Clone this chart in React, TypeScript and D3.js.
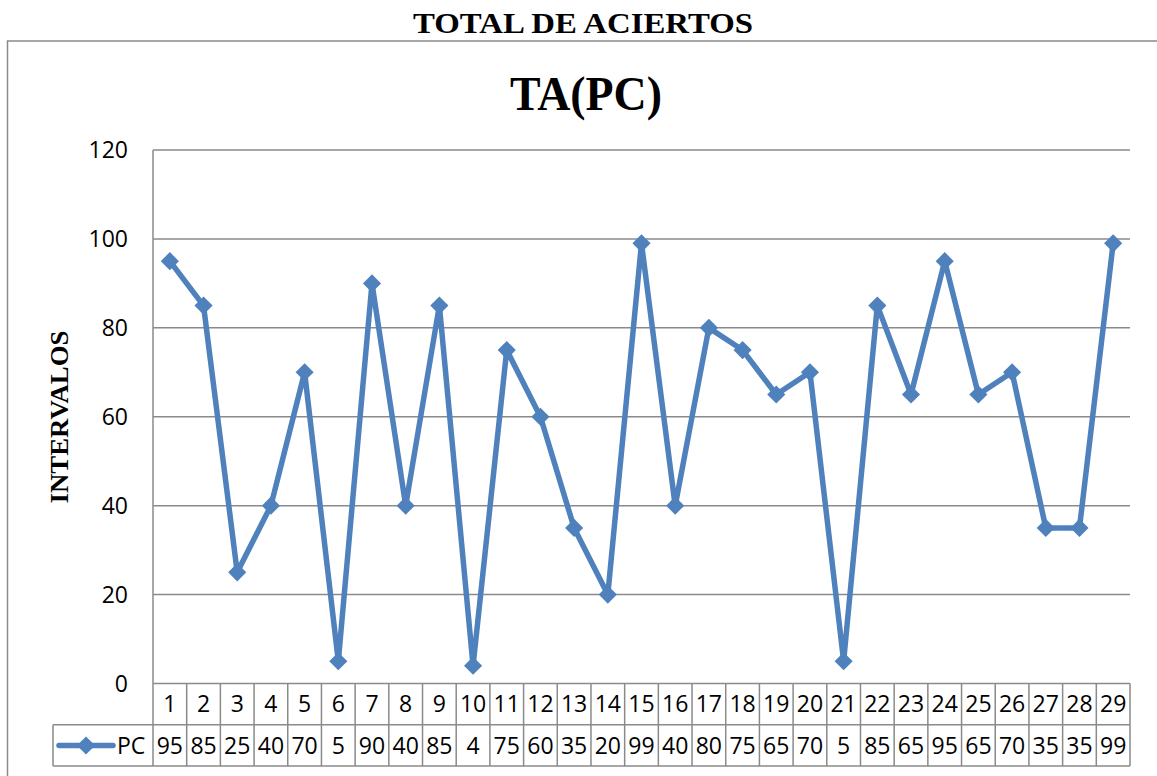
import React from 'react';
import * as d3 from 'd3';

const categories = ['1', '2', '3', '4', '5', '6', '7', '8', '9', '10', '11', '12', '13', '14', '15', '16', '17', '18', '19', '20', '21', '22', '23', '24', '25', '26', '27', '28', '29'];
const pcValues = [95, 85, 25, 40, 70, 5, 90, 40, 85, 4, 75, 60, 35, 20, 99, 40, 80, 75, 65, 70, 5, 85, 65, 95, 65, 70, 35, 35, 99];
const yTicks = [0, 20, 40, 60, 80, 100, 120];
const seriesName = 'PC';
const pageTitle = 'TOTAL DE ACIERTOS';
const chartTitle = 'TA(PC)';
const yTitle = 'INTERVALOS';

const W = 1157;
const H = 776;
const plot = { left: 153, right: 1130, top: 150, bottom: 683.5 };
const rowH = 41.3;
const legendLeft = 53;
const blue = '#4F81BD';
const grid = '#8A8A8A';
const numFont = '"Open Sans", "Liberation Sans", sans-serif';
const serif = '"Liberation Serif", "Times New Roman", serif';

const App = () => {
  React.useEffect(() => {
    document.body.style.margin = '0';
  }, []);

  const x = d3.scaleBand<string>().domain(categories).range([plot.left, plot.right]).padding(0);
  const y = d3.scaleLinear().domain([0, 120]).range([plot.bottom, plot.top]);
  const cx = (i: number) => x(categories[i])! + x.bandwidth() / 2;

  const line = d3.line<number>()
    .x((_, i) => cx(i))
    .y(d => y(d));

  const diamond = d3.symbol().type(d3.symbolDiamond2).size(210)();

  const row1Top = plot.bottom;
  const row2Top = plot.bottom + rowH;
  const row2Bottom = plot.bottom + 2 * rowH;
  const row2Mid = (row2Top + row2Bottom) / 2;

  return (
    <svg width={W} height={H} style={{ display: 'block', background: '#fff' }}>
      <text x={413} y={33} textLength={340} lengthAdjust="spacingAndGlyphs" fontFamily={serif} fontWeight="bold" fontSize={30}>{pageTitle}</text>
      <rect x={7.5} y={41} width={W + 10} height={H} fill="none" stroke={grid} strokeWidth={1.5} />
      <text x={510} y={110} textLength={152} lengthAdjust="spacingAndGlyphs" fontFamily={serif} fontWeight="bold" fontSize={48}>{chartTitle}</text>

      {/* gridlines */}
      {yTicks.map(t => (
        <line key={t} x1={plot.left} x2={plot.right} y1={y(t)} y2={y(t)} stroke={grid} strokeWidth={1.5} />
      ))}
      {yTicks.map(t => (
        <text key={'l' + t} x={128} y={y(t)} dy="0.35em" textAnchor="end" fontFamily={numFont} fontSize={23}>{t}</text>
      ))}
      <text transform={`translate(68,417) rotate(-90)`} textAnchor="middle" textLength={173} lengthAdjust="spacingAndGlyphs" fontFamily={serif} fontWeight="bold" fontSize={26}>{yTitle}</text>

      {/* data table */}
      <line x1={plot.left} x2={plot.left} y1={plot.top} y2={row2Bottom} stroke={grid} strokeWidth={1.5} />
      <line x1={legendLeft} x2={plot.right} y1={row2Top} y2={row2Top} stroke={grid} strokeWidth={1.5} />
      <line x1={legendLeft} x2={plot.right} y1={row2Bottom} y2={row2Bottom} stroke={grid} strokeWidth={1.5} />
      <line x1={legendLeft} x2={legendLeft} y1={row2Top} y2={row2Bottom} stroke={grid} strokeWidth={1.5} />
      {categories.map(c => (
        <line key={'v' + c} x1={x(c)! + x.bandwidth()} x2={x(c)! + x.bandwidth()} y1={row1Top} y2={row2Bottom} stroke={grid} strokeWidth={1.5} />
      ))}
      {categories.map((c, i) => (
        <text key={'c' + c} x={cx(i)} y={(row1Top + row2Top) / 2} dy="0.35em" textAnchor="middle" fontFamily={numFont} fontSize={23}>{c}</text>
      ))}
      {pcValues.map((v, i) => (
        <text key={'d' + i} x={cx(i)} y={row2Mid} dy="0.35em" textAnchor="middle" fontFamily={numFont} fontSize={23}>{v}</text>
      ))}
      <line x1={59} x2={113} y1={row2Mid} y2={row2Mid} stroke={blue} strokeWidth={5.5} strokeLinecap="round" />
      <path d={diamond} transform={`translate(86,${row2Mid})`} fill={blue} />
      <text x={117} y={row2Mid} dy="0.35em" fontFamily={numFont} fontSize={23}>{seriesName}</text>

      {/* series */}
      <path d={line(pcValues)!} fill="none" stroke={blue} strokeWidth={5.5} strokeLinejoin="round" />
      {pcValues.map((v, i) => (
        <path key={'m' + i} d={diamond} transform={`translate(${cx(i)},${y(v)})`} fill={blue} />
      ))}
    </svg>
  );
};

export default App;
